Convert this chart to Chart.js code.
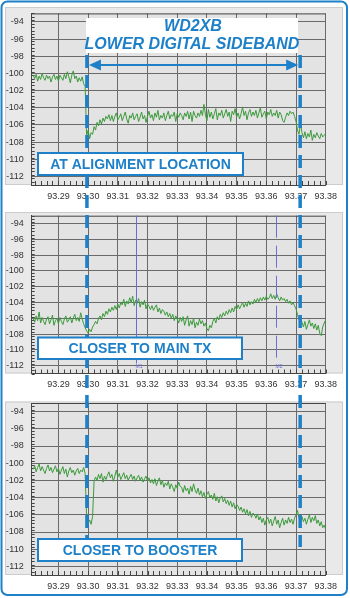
<!DOCTYPE html>
<html>
<head>
<meta charset="utf-8">
<script src="https://cdn.jsdelivr.net/npm/chart.js@4.4.1/dist/chart.umd.min.js"></script>
<style>
html, body { margin: 0; padding: 0; background: #fff; }
#wrap { position: relative; width: 350px; height: 598px; overflow: hidden; }
#wrap canvas { position: absolute; left: 0; top: 0; }
</style>
</head>
<body>
<div id="wrap">
    <canvas id="c1" width="350" height="598"></canvas>
    <canvas id="c2" width="350" height="598"></canvas>
    <canvas id="c3" width="350" height="598"></canvas>
</div>
<script>
// Spectrum bins (MHz)
const FREQ_START = 93.2815;
const FREQ_STEP = 0.0005;

const X_TICKS = [93.29, 93.30, 93.31, 93.32, 93.33, 93.34, 93.35, 93.36, 93.37, 93.38];
const Y_TICKS = [-112, -110, -108, -106, -104, -102, -100, -98, -96, -94];

const TITLE = ['WD2XB', 'LOWER DIGITAL SIDEBAND'];
const PANEL_LABELS = ['AT ALIGNMENT LOCATION', 'CLOSER TO MAIN TX', 'CLOSER TO BOOSTER'];

// sideband edges and the two markers on the middle trace
const SIDEBAND = [93.2996, 93.3714];
const MARKER_LABELS = ['M1', 'M2'];
const MARKER_FREQS = [93.316, 93.3634];

// trace readings, dBm
const alignmentTrace = [
    -100.2, -100.6, -100.1, -100.9, -100.3, -100.7, -100.0, -100.5, -100.8, -100.2,
    -100.6, -100.3, -101.0, -100.4, -100.1, -100.7, -100.3, -100.9, -100.2, -100.5,
    -100.8, -100.1, -100.6, -99.8, -100.4, -101.1, -100.2, -99.7, -100.6, -100.3,
    -101.0, -100.5, -100.9, -100.4, -101.2, -101.5,
    -107.3, -106.6, -107.6, -106.9, -107.1, -106.2, -106.6, -105.7, -106.1, -105.4, -105.9, -105.2, -105.6, -105.0,
    -105.3, -104.8, -105.5, -104.9, -105.6, -105.0, -104.6, -105.4, -105.1, -104.7,
    -105.5, -105.0, -104.5, -105.3, -105.8, -104.9, -105.2, -104.6, -105.4, -105.0,
    -104.7, -105.6, -105.1, -104.5, -105.3, -104.9, -105.7, -105.0, -104.4, -105.2,
    -104.8, -105.5, -104.6, -105.1, -104.3, -105.4, -104.9, -105.2, -104.6, -105.5,
    -104.9, -104.4, -105.3, -104.8, -105.0, -104.5, -105.6, -104.7, -105.1, -104.6,
    -104.9, -105.4, -104.6, -105.0, -104.4, -105.3, -104.5, -105.6, -104.4, -104.9,
    -105.2, -104.6, -105.0, -104.3, -104.9, -103.6, -104.8, -105.5, -104.2, -105.1,
    -104.5, -105.3, -104.7, -104.1, -105.4, -104.6, -104.9, -104.3, -105.2, -104.7,
    -104.2, -105.0, -104.5, -105.6, -104.4, -104.8, -104.1, -105.1, -104.6, -105.3,
    -104.7, -103.9, -104.9, -104.4, -105.4, -104.6, -104.2, -105.0, -104.5, -104.9,
    -104.3, -105.2, -104.6, -104.0, -105.1, -104.7, -104.4, -105.3, -104.5, -104.8,
    -104.2, -105.0, -104.6, -104.9, -104.3, -105.2, -104.5, -104.8, -105.5, -105.7,
    -105.1, -104.6, -104.9, -104.4, -104.7, -104.5, -105.0,
    -105.6, -106.6, -107.1, -105.8, -106.9, -107.5, -106.8, -107.6, -107.0, -107.4,
    -106.6, -107.8, -107.1, -107.5, -106.9, -107.3, -107.6, -107.0, -107.4, -107.2, -107.0
];

const mainTxTrace = [
    -106.0, -106.5, -105.7, -106.3, -105.2, -106.6, -105.9, -106.4, -106.8, -106.1,
    -105.8, -106.7, -106.2, -105.6, -106.9, -106.3, -106.0, -106.7, -105.9, -106.4,
    -106.8, -106.1, -105.7, -106.5, -106.2, -105.8, -106.6, -106.0, -105.5, -106.3,
    -105.9, -106.4, -105.3, -106.1, -106.7, -107.2,
    -107.6, -107.9, -107.4, -107.7, -107.1, -106.8, -106.4, -106.7, -106.0, -105.7, -106.2, -105.4,
    -105.8, -105.1, -105.5, -104.8, -105.2, -104.6, -105.0, -104.4, -104.9, -104.2, -104.7, -104.0,
    -104.3, -103.6, -104.5, -103.8, -104.2, -103.4, -104.0, -103.2, -104.4, -103.7,
    -104.1, -103.5, -104.6, -103.9, -104.3, -103.7, -104.8, -104.2, -104.5, -104.9,
    -104.4, -105.0, -104.6, -104.3, -105.2, -104.7, -105.4, -104.9, -105.1, -105.6,
    -105.2, -105.8, -105.4, -106.0, -105.5, -106.3, -105.7, -106.1, -106.6, -105.9,
    -106.4, -105.8, -106.9, -106.2, -105.7, -107.0, -106.3, -106.8, -106.0, -107.2,
    -106.5, -106.9, -106.1, -106.7, -106.3, -107.0, -106.6, -107.3, -107.6, -106.9,
    -107.2, -106.4, -106.0, -106.6, -105.8, -106.2, -105.5, -105.9, -105.3, -105.7,
    -105.1, -105.5, -104.9, -105.3, -104.7, -105.2, -104.5, -104.9, -104.3, -104.8,
    -104.4, -104.0, -104.6, -104.1, -104.5, -103.8, -104.3, -103.9, -104.2, -103.6,
    -104.0, -103.5, -103.9, -103.4, -103.8, -103.3, -103.7, -103.2, -103.6, -103.4,
    -102.9, -103.5, -103.1, -103.6, -102.9, -103.4, -103.8, -103.3, -103.7, -103.5,
    -103.9, -103.6, -104.1, -103.8, -104.3, -104.0, -104.4,
    -104.8, -105.5, -106.2, -105.8,
    -106.5, -107.1, -106.4, -107.4, -106.8, -106.2, -107.0, -106.6, -107.3, -106.7,
    -107.5, -106.9, -107.9, -108.2, -107.1, -106.6, -106.2
];

const boosterTrace = [
    -100.7, -100.3, -101.0, -100.5, -100.1, -100.9, -100.4, -100.8, -101.2, -100.6,
    -100.2, -100.9, -100.5, -101.1, -100.7, -100.3, -101.0, -100.6, -101.3, -100.8,
    -100.4, -101.2, -100.7, -101.6, -100.9, -100.5, -101.1, -100.8, -101.4, -100.9,
    -100.6, -101.2, -100.8, -101.0, -100.5, -101.2,
    -106.3, -107.0, -106.6, -107.1, -106.2,
    -102.1, -101.6, -102.0, -101.3, -101.8, -101.2, -102.2, -101.5, -101.9,
    -101.4, -101.0, -101.7, -101.3, -102.1, -101.5, -100.8, -101.6, -101.2, -101.9,
    -101.5, -101.1, -101.8, -101.4, -102.0, -101.6, -101.3, -101.9, -101.5, -102.1,
    -101.7, -101.4, -102.0, -101.6, -102.2, -101.8, -101.5, -102.1, -101.7, -102.3,
    -101.9, -102.4, -101.8, -102.6, -102.1, -101.7, -102.5, -102.0, -102.8, -102.3,
    -102.6, -102.1, -103.0, -102.4, -102.8, -103.3, -102.5, -102.9, -102.2, -102.7,
    -102.8, -103.4, -102.6, -103.2, -102.9, -103.6, -102.7, -103.3, -102.4, -103.1,
    -103.5, -102.9, -103.7, -103.2, -103.9, -103.4, -104.1, -103.6, -103.3, -104.0,
    -103.7, -104.2, -103.5, -104.4, -103.9, -104.6, -104.0, -103.8, -104.5, -104.1,
    -104.7, -104.3, -104.9, -104.4, -105.1, -104.6, -105.3, -104.8, -105.0, -105.5,
    -105.1, -105.7, -105.3, -105.9, -105.4, -106.1, -105.6, -106.3, -105.8, -106.0,
    -106.4, -105.9, -106.6, -106.2, -106.9, -106.4, -107.2, -106.6, -106.3, -107.0,
    -106.5, -107.3, -106.7, -106.2, -107.1, -106.6, -107.5, -106.9, -106.4, -107.2,
    -106.6, -107.0, -106.3, -106.9, -106.5, -107.1, -106.4,
    -106.0, -105.5, -106.3, -106.9, -106.2, -106.8, -106.4, -107.1, -106.5, -106.0,
    -106.9, -106.3, -106.7, -106.1, -107.0, -106.6, -107.3, -106.8, -107.5, -107.2, -107.7
];

const BLUE = '#1d80c8';
const FONT = "'Liberation Sans', Arial, sans-serif";
const X_AXIS_H = 20;

// pixel layout of the three panels: plot top/bottom and grey panel box
const PANELS = [
    { top: 12, bottom: 185, box: [5, 7, 343, 185] },
    { top: 215.7, bottom: 373.5, box: [5, 212, 343, 373.5] },
    { top: 403, bottom: 575, box: [5, 401.5, 343, 575] }
];

const panelPlugin = {
    id: 'panel',
    beforeDraw(chart, args, opts) {
        const { ctx, chartArea: a } = chart;
        const b = opts.box;
        ctx.save();
        ctx.fillStyle = '#e9e9e9';
        ctx.fillRect(b[0], b[1], b[2] - b[0], b[3] - b[1]);
        ctx.strokeStyle = '#cccccc';
        ctx.lineWidth = 1;
        ctx.strokeRect(b[0] + 0.5, b[1] + 0.5, b[2] - b[0] - 1, b[3] - b[1] - 1);
        ctx.fillStyle = '#e3e3e3';
        ctx.fillRect(a.left, a.top, a.right - a.left, a.bottom - a.top);
        ctx.restore();
    },
    beforeDatasetsDraw(chart) {
        const { ctx, chartArea: a, scales } = chart;
        ctx.save();
        ctx.strokeStyle = '#444';
        ctx.lineWidth = 1;
        ctx.beginPath();
        ctx.moveTo(a.left, a.top + 0.5);
        ctx.lineTo(a.right, a.top + 0.5);
        // minor ticks along left and bottom edges
        for (let k = 0; k <= 50; k++) {
            const py = Math.round(scales.y.getPixelForValue(-113 + k * 0.4)) + 0.5;
            ctx.moveTo(a.left, py);
            ctx.lineTo(a.left + 3, py);
        }
        for (let k = 0; k < 50; k++) {
            const px = Math.round(scales.x.getPixelForValue(93.282 + k * 0.002)) + 0.5;
            ctx.moveTo(px, a.bottom);
            ctx.lineTo(px, a.bottom - 4);
        }
        ctx.stroke();
        ctx.restore();
    },
    afterDatasetsDraw(chart, args, opts) {
        if (!opts.markers) return;
        const { ctx, chartArea: a, scales } = chart;
        ctx.save();
        ctx.strokeStyle = '#6d6dd8';
        ctx.fillStyle = '#6d6dd8';
        ctx.lineWidth = 1;
        ctx.font = '5px ' + FONT;
        MARKER_FREQS.forEach((f, i) => {
            const px = Math.round(scales.x.getPixelForValue(f)) + 0.5;
            ctx.setLineDash(i === 0 ? [] : [22, 8]);
            ctx.beginPath();
            ctx.moveTo(px, a.top);
            ctx.lineTo(px, a.bottom - 10);
            ctx.stroke();
            ctx.fillText(MARKER_LABELS[i], px - 1, a.bottom - 6);
        });
        ctx.restore();
    }
};

function drawBoxText(ctx, text, x, y, w, h) {
    ctx.fillStyle = '#fff';
    ctx.fillRect(x, y, w, h);
    ctx.strokeStyle = BLUE;
    ctx.lineWidth = 2;
    ctx.strokeRect(x, y, w, h);
    ctx.fillStyle = BLUE;
    ctx.font = 'bold 14px ' + FONT;
    ctx.textAlign = 'center';
    ctx.textBaseline = 'middle';
    ctx.fillText(text, x + w / 2, y + h / 2 + 1);
}

// dashed sideband edges, title, arrow, panel captions and frame (top canvas)
const overlayPlugin = {
    id: 'overlay',
    afterDraw(chart) {
        const ctx = chart.ctx;
        const xl = chart.scales.x.getPixelForValue(SIDEBAND[0]);
        const xr = chart.scales.x.getPixelForValue(SIDEBAND[1]);
        ctx.save();

        ctx.strokeStyle = BLUE;
        ctx.lineWidth = 3.5;
        ctx.setLineDash([13, 7]);
        [xl, xr].forEach(px => {
            ctx.beginPath();
            ctx.moveTo(px, 55);
            ctx.lineTo(px, 547);
            ctx.stroke();
        });
        ctx.setLineDash([]);

        // title
        ctx.fillStyle = '#fff';
        ctx.fillRect(86, 18, 212, 35);
        ctx.fillStyle = BLUE;
        ctx.font = 'italic bold 16px ' + FONT;
        ctx.textAlign = 'center';
        ctx.textBaseline = 'middle';
        ctx.fillText(TITLE[0], 193, 27);
        ctx.fillText(TITLE[1], 192, 45);

        // double arrow between the edges
        const ay = 65;
        ctx.lineWidth = 2;
        ctx.beginPath();
        ctx.moveTo(xl + 10, ay);
        ctx.lineTo(xr - 10, ay);
        ctx.stroke();
        ctx.beginPath();
        ctx.moveTo(xl + 2, ay);
        ctx.lineTo(xl + 14, ay - 5.5);
        ctx.lineTo(xl + 14, ay + 5.5);
        ctx.closePath();
        ctx.moveTo(xr - 2, ay);
        ctx.lineTo(xr - 14, ay - 5.5);
        ctx.lineTo(xr - 14, ay + 5.5);
        ctx.closePath();
        ctx.fill();

        drawBoxText(ctx, PANEL_LABELS[0], 38, 153, 205, 22);
        drawBoxText(ctx, PANEL_LABELS[1], 38, 337.5, 204, 21.5);
        drawBoxText(ctx, PANEL_LABELS[2], 38, 539, 204, 22);

        ctx.strokeStyle = BLUE;
        ctx.lineWidth = 2;
        ctx.beginPath();
        ctx.roundRect(1.5, 1.5, 345.5, 593.5, 6);
        ctx.stroke();
        ctx.restore();
    }
};

function makeChart(id, trace, panel, extra) {
    const points = trace.map((v, i) => ({ x: FREQ_START + i * FREQ_STEP, y: v }));
    const plugins = [panelPlugin];
    if (extra) plugins.push(extra);
    return new Chart(document.getElementById(id), {
        type: 'line',
        data: {
            datasets: [{
                data: points,
                borderColor: '#3c9a3c',
                borderWidth: 1,
                pointRadius: 0,
                tension: 0
            }]
        },
        options: {
            responsive: false,
            animation: false,
            layout: {
                padding: { left: 0, right: 24.3, top: panel.top, bottom: 598 - panel.bottom - X_AXIS_H }
            },
            scales: {
                x: {
                    type: 'linear',
                    min: 93.281,
                    max: 93.38,
                    afterBuildTicks: s => { s.ticks = X_TICKS.map(v => ({ value: v })); },
                    afterFit: s => { s.height = X_AXIS_H; },
                    ticks: {
                        autoSkip: false,
                        maxRotation: 0,
                        padding: 6,
                        color: '#333',
                        font: { family: FONT, size: 9 },
                        callback: v => v.toFixed(2)
                    },
                    grid: { color: '#6a6a6a', drawTicks: false },
                    border: { color: '#444' }
                },
                y: {
                    type: 'linear',
                    min: -113,
                    max: -93,
                    afterBuildTicks: s => { s.ticks = Y_TICKS.map(v => ({ value: v })); },
                    afterFit: s => { s.width = 31.7; },
                    ticks: {
                        padding: 8,
                        color: '#333',
                        font: { family: FONT, size: 9 },
                        callback: v => String(v)
                    },
                    grid: { color: '#6a6a6a', drawTicks: false },
                    border: { color: '#444' }
                }
            },
            plugins: {
                legend: { display: false },
                tooltip: { enabled: false },
                panel: { box: panel.box, markers: id === 'c2' }
            }
        },
        plugins: plugins
    });
}

makeChart('c1', alignmentTrace, PANELS[0]);
makeChart('c2', mainTxTrace, PANELS[1]);
makeChart('c3', boosterTrace, PANELS[2], overlayPlugin);
</script>
</body>
</html>
